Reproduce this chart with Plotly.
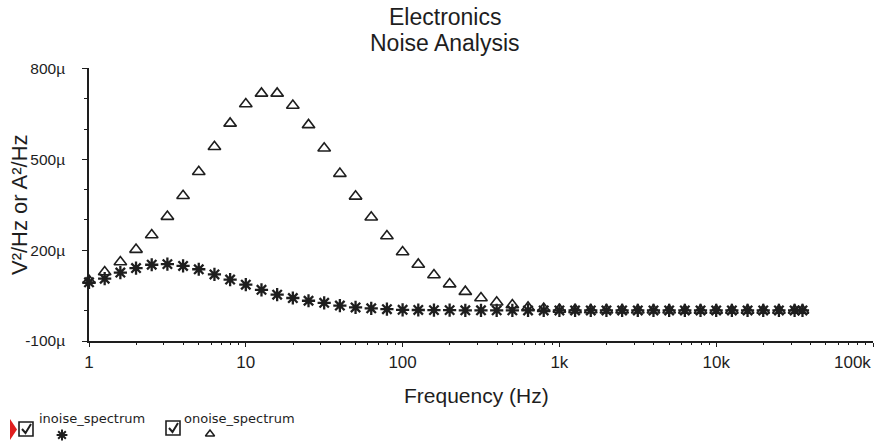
import plotly.graph_objects as go

# ---------------- data ----------------
freq_hz = [1, 1.259, 1.585, 1.995, 2.512, 3.162, 3.981, 5.012, 6.310, 7.943,
           10, 12.59, 15.85, 19.95, 25.12, 31.62, 39.81, 50.12, 63.10, 79.43,
           100, 125.9, 158.5, 199.5, 251.2, 316.2, 398.1, 501.2, 631.0, 794.3,
           1000, 1259, 1585, 1995, 2512, 3162, 3981, 5012, 6310, 7943,
           10000, 12589, 15849, 19953, 25119, 31623, 35500]

inoise_u = [94, 106, 126, 141, 152, 154, 148, 137, 120, 103,
            86, 69, 53, 42, 33, 26, 17, 11, 8, 5,
            3, 2.5, 2, 2, 1.5, 1.5, 1.2, 1.2, 1, 1,
            1, 1, 1, 1, 1, 1, 1, 1, 1, 1,
            1, 1, 1, 1, 1, 1, 1]

onoise_u = [100, 128, 161, 202, 250, 311, 380, 459, 542, 619,
            683, 718, 718, 678, 614, 537, 453, 378, 309, 247,
            194, 153, 118, 88, 63, 42, 28, 19, 11, 7,
            4, 3, 2.5, 2, 2, 1.5, 1.5, 1.5, 1.2, 1.2,
            1.2, 1, 1, 1, 1, 1, 1]

y_tick_vals_u = [800, 500, 200, -100]
y_tick_text = ["800µ", "500µ", "200µ", "-100µ"]
y_minor_u = [-100, 0, 100, 200, 300, 400, 500, 600, 700, 800]
x_tick_vals = [1, 10, 100, 1000, 10000]
x_tick_text = ["1", "10", "100", "1k", "10k"]
x_last_tick_val = 100000
x_last_tick_text = "100k"
x_minor = [m * d for d in [1, 10, 100, 1000, 10000] for m in range(2, 10)]

title_lines = ["Electronics", "Noise Analysis"]
legend_names = ["inoise_spectrum", "onoise_spectrum"]

# ---------------- figure ----------------
W, H = 882, 445
INK = "#1e1e1e"
FONT = "Liberation Sans, Arial, sans-serif"

fig = go.Figure()

fig.add_trace(go.Scatter(
    x=freq_hz, y=[v * 1e-6 for v in onoise_u], mode="markers",
    name=legend_names[1],
    marker=dict(symbol="triangle-up-open", size=11, color=INK,
                line=dict(width=1.6, color=INK)),
    cliponaxis=False, showlegend=False))
fig.add_trace(go.Scatter(
    x=freq_hz, y=[v * 1e-6 for v in inoise_u], mode="markers",
    name=legend_names[0],
    marker=dict(symbol="asterisk-open", size=11, color=INK,
                line=dict(width=2.3, color=INK)),
    cliponaxis=False, showlegend=False))

# legend glyphs on a pixel-coordinate overlay axis
fig.add_trace(go.Scatter(x=[62], y=[435], xaxis="x2", yaxis="y2", mode="markers",
                         marker=dict(symbol="asterisk-open", size=9, color=INK,
                                     line=dict(width=2, color=INK)),
                         showlegend=False, hoverinfo="skip"))
fig.add_trace(go.Scatter(x=[210], y=[434], xaxis="x2", yaxis="y2", mode="markers",
                         marker=dict(symbol="triangle-up-open", size=8, color=INK,
                                     line=dict(width=1.5, color=INK)),
                         showlegend=False, hoverinfo="skip"))

x0, x1 = 89, 873
yb, yt = 341, 68

fig.update_layout(
    width=W, height=H,
    margin=dict(l=0, r=0, t=0, b=0, autoexpand=False),
    paper_bgcolor="white", plot_bgcolor="rgba(0,0,0,0)",
    font=dict(family=FONT, color=INK),
    xaxis=dict(type="log", domain=[x0 / W, x1 / W], range=[0, 5],
               anchor="y", showgrid=False, zeroline=False,
               showline=True, linecolor=INK, linewidth=1.5,
               ticks="outside", ticklen=4, tickwidth=1.2, tickcolor=INK,
               tickvals=x_tick_vals + [x_last_tick_val],
               ticktext=x_tick_text + [""],
               ticklabelstandoff=1,
               tickfont=dict(size=17, family=FONT, color=INK),
               minor=dict(tickvals=x_minor, ticks="outside", ticklen=2,
                          tickwidth=1, tickcolor=INK)),
    yaxis=dict(domain=[1 - yb / H, 1 - yt / H], range=[-100e-6, 802e-6],
               anchor="x", showgrid=False, zeroline=False,
               showline=True, linecolor=INK, linewidth=1.5,
               ticks="outside", ticklen=5, tickwidth=1.2, tickcolor=INK,
               tickvals=[v * 1e-6 for v in y_tick_vals_u], ticktext=y_tick_text,
               ticklabelstandoff=14,
               tickfont=dict(size=15.5, family=FONT, color=INK),
               minor=dict(tickvals=[v * 1e-6 for v in y_minor_u], ticks="outside",
                          ticklen=3, tickwidth=1, tickcolor=INK)),
    xaxis2=dict(domain=[0, 1], range=[0, W], anchor="y2", visible=False,
                fixedrange=True),
    yaxis2=dict(domain=[0, 1], range=[H, 0], anchor="x2", visible=False,
                fixedrange=True),
    annotations=[
        dict(text=x_last_tick_text, x=5, xref="x", y=1 - 362 / H, yref="paper",
             xanchor="right", yanchor="middle", showarrow=False,
             font=dict(size=17, family=FONT, color=INK)),
        dict(text=title_lines[0], x=445 / W, y=1 - 17 / H, xref="paper", yref="paper",
             xanchor="center", yanchor="middle", showarrow=False,
             font=dict(size=23, family=FONT, color=INK)),
        dict(text=title_lines[1], x=445 / W, y=1 - 43 / H, xref="paper", yref="paper",
             xanchor="center", yanchor="middle", showarrow=False,
             font=dict(size=23, family=FONT, color=INK)),
        dict(text="Frequency (Hz)", x=476 / W, y=1 - 395 / H, xref="paper", yref="paper",
             xanchor="center", yanchor="middle", showarrow=False,
             font=dict(size=21, family=FONT, color=INK)),
        dict(text="V²/Hz or A²/Hz", x=19 / W, y=1 - 205 / H,
             xref="paper", yref="paper", textangle=-90,
             xanchor="center", yanchor="middle", showarrow=False,
             font=dict(size=22, family=FONT, color=INK)),
        dict(text=legend_names[0], x=37 / W, y=1 - 418 / H, xref="paper", yref="paper",
             xanchor="left", yanchor="middle", showarrow=False,
             font=dict(size=13, family="DejaVu Sans, sans-serif", color=INK)),
        dict(text=legend_names[1], x=182 / W, y=1 - 418 / H, xref="paper", yref="paper",
             xanchor="left", yanchor="middle", showarrow=False,
             font=dict(size=13, family="DejaVu Sans, sans-serif", color=INK)),
    ],
    shapes=[
        # red selection marker
        dict(type="path", xref="x2", yref="y2",
             path="M 10 419 L 17 429.5 L 10 440 Z",
             fillcolor="#e02020", line=dict(width=0)),
        # checkbox 1
        dict(type="rect", xref="x2", yref="y2", x0=19, x1=33, y0=422, y1=436,
             line=dict(color=INK, width=1.6), fillcolor="white"),
        dict(type="path", xref="x2", yref="y2",
             path="M 22 429 L 25.5 433 L 31 424",
             line=dict(color=INK, width=2)),
        # checkbox 2
        dict(type="rect", xref="x2", yref="y2", x0=166, x1=180, y0=421, y1=435,
             line=dict(color=INK, width=1.6), fillcolor="white"),
        dict(type="path", xref="x2", yref="y2",
             path="M 169 428 L 172.5 432 L 178 423",
             line=dict(color=INK, width=2)),
    ],
)

fig.write_html("out.html")
